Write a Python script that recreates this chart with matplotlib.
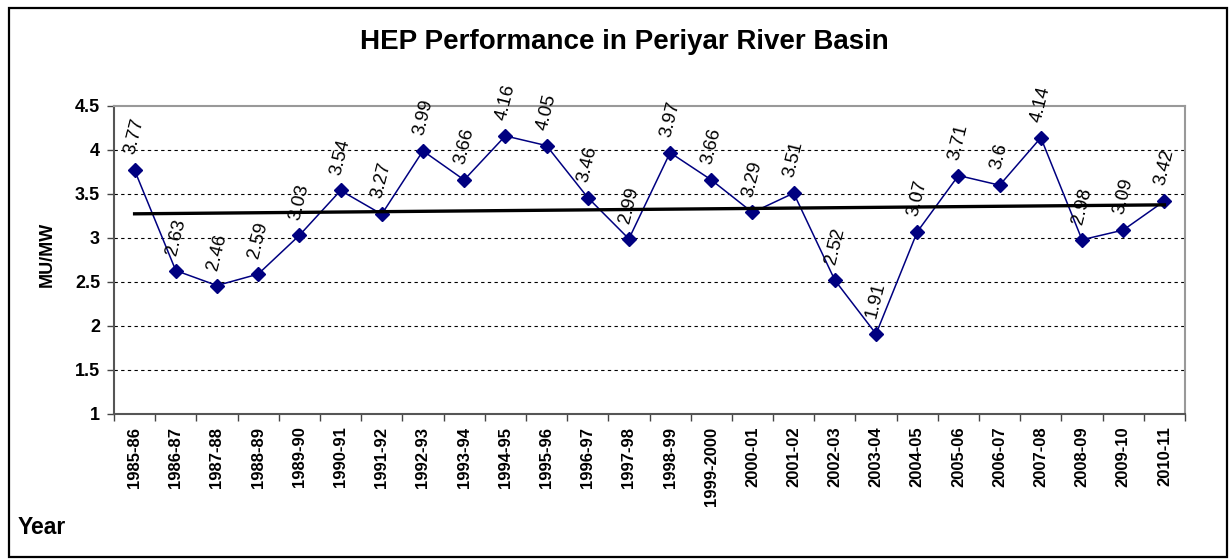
import numpy as np
import matplotlib
matplotlib.use('Agg')
import matplotlib.pyplot as plt
from matplotlib.patches import Rectangle

years = ['1985-86', '1986-87', '1987-88', '1988-89', '1989-90', '1990-91',
         '1991-92', '1992-93', '1993-94', '1994-95', '1995-96', '1996-97',
         '1997-98', '1998-99', '1999-2000', '2000-01', '2001-02', '2002-03',
         '2003-04', '2004-05', '2005-06', '2006-07', '2007-08', '2008-09',
         '2009-10', '2010-11']
values = [3.77, 2.63, 2.46, 2.59, 3.03, 3.54, 3.27, 3.99, 3.66, 4.16, 4.05,
          3.46, 2.99, 3.97, 3.66, 3.29, 3.51, 2.52, 1.91, 3.07, 3.71, 3.6,
          4.14, 2.98, 3.09, 3.42]
yticks = [1, 1.5, 2, 2.5, 3, 3.5, 4, 4.5]

plt.rcParams['font.family'] = ['Liberation Sans', 'DejaVu Sans']

fig = plt.figure(figsize=(12.3, 5.59), dpi=100)
ax = fig.add_axes([114 / 1230, 1 - 414 / 559, 1071 / 1230, 308 / 559])

# outer frame round the whole chart
fig.patches.append(Rectangle((9 / 1230, 2 / 559), 1218 / 1230, 549 / 559,
                             transform=fig.transFigure, fill=False,
                             edgecolor='black', lw=1.6))

x = np.arange(len(years))
ax.plot(x, values, color='#000080', lw=1.1, marker='D', ms=7.5,
        markerfacecolor='#000080', markeredgecolor='#000080', zorder=3)

# linear trend line (Excel style)
k, b = np.polyfit(x, values, 1)
ax.plot([x[0], x[-1]], [k * x[0] + b, k * x[-1] + b], color='black',
        lw=2.4, zorder=4)

for xi, v in zip(x, values):
    ax.annotate(f'{v:g}', (xi, v), xytext=(0, 10), textcoords='offset points',
                ha='center', va='bottom', rotation=76, fontsize=13.5,
                zorder=5)

ax.set_xlim(-0.5, len(years) - 0.5)
ax.set_ylim(1, 4.5)
ax.set_yticks(yticks)
ax.set_yticklabels([f'{t:g}' for t in yticks], fontsize=13,
                   fontweight='bold')
ax.set_xticks(x)
ax.set_xticklabels(years, rotation=90, fontsize=12, fontweight='bold')
ax.set_xticks(np.arange(-0.5, len(years)), minor=True)
ax.tick_params(axis='x', which='major', length=0, pad=9)
ax.tick_params(axis='x', which='minor', length=5, width=1, color='#444444')
ax.tick_params(axis='y', length=5, width=1, color='#444444', pad=5)

for t in yticks[1:-1]:
    ax.axhline(t, color='black', lw=0.8, ls=(0, (3, 3)), zorder=1)

for s in ['top', 'right']:
    ax.spines[s].set_color('#999999')
    ax.spines[s].set_linewidth(1.5)
for s in ['left', 'bottom']:
    ax.spines[s].set_color('#555555')
    ax.spines[s].set_linewidth(1.5)

fig.text(624 / 1230, 1 - 42 / 559, 'HEP Performance in Periyar River Basin',
         ha='center', va='center', fontsize=20, fontweight='bold')
fig.text(47 / 1230, 1 - 254 / 559, 'MU/MW', rotation=90, ha='center',
         va='center', fontsize=13, fontweight='bold')
fig.text(18 / 1230, 1 - 528 / 559, 'Year', ha='left', va='center',
         fontsize=16.5, fontweight='bold')

fig.savefig('out.png', dpi=100)
